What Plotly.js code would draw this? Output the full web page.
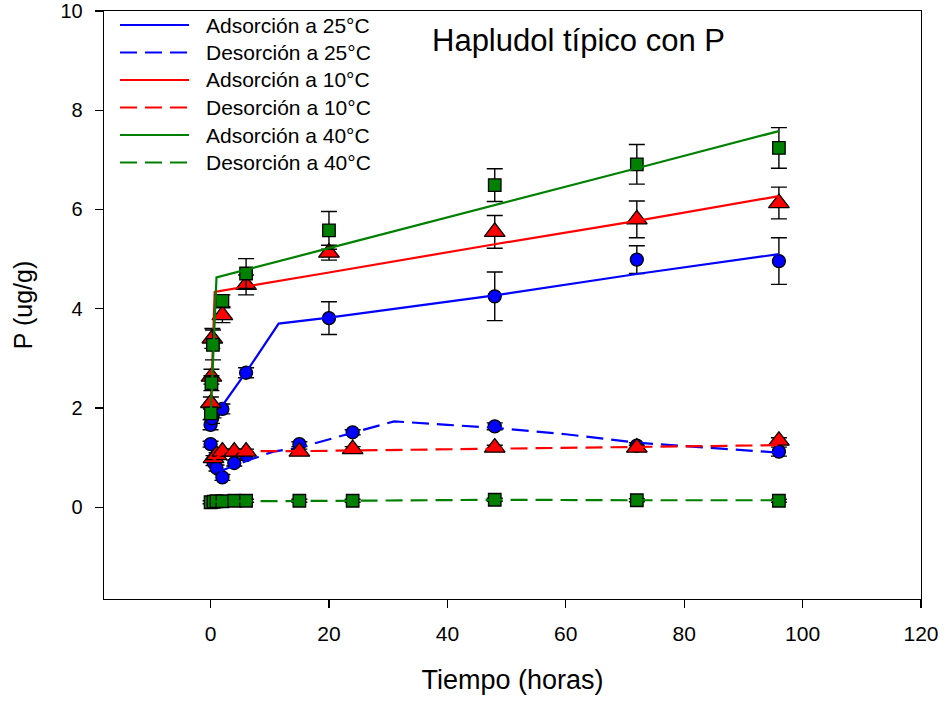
<!DOCTYPE html>
<html>
<head>
<meta charset="utf-8">
<script src="https://cdn.plot.ly/plotly-3.0.1.min.js"></script>
<style>html,body{margin:0;padding:0;background:#fff;}#chart{width:946px;height:702px;}</style>
</head>
<body>
<div id="chart"></div>
<script>
// ---------- DATA ----------
const seriesNames = ["Adsorción a 25°C","Desorción a 25°C","Adsorción a 10°C","Desorción a 10°C","Adsorción a 40°C","Desorción a 40°C"];

// Adsorción 25°C (blue circles)
const adsB_t   = [0, 0.25, 0.5, 2, 6, 20, 48, 72, 96];
const adsB_y   = [1.66, 1.79, 1.9, 1.98, 2.71, 3.81, 4.25, 4.99, 4.96];
const adsB_err = [0.1, 0.1, 0.1, 0.1, 0.1, 0.33, 0.49, 0.28, 0.47];
const adsB_fitT = [0.5, 2, 6, 11.5, 20, 48, 72, 96];
const adsB_fitY = [1.88, 2.05, 2.72, 3.7, 3.82, 4.27, 4.7, 5.1];

// Desorción 25°C
const desB_t   = [0, 0.5, 1, 2, 4, 6, 15, 24, 48, 72, 96];
const desB_y   = [1.27, 0.9, 0.79, 0.6, 0.89, 1.05, 1.27, 1.51, 1.63, 1.24, 1.12];
const desB_err = [0.06, 0.06, 0.06, 0.06, 0.06, 0.06, 0.05, 0.05, 0.07, 0.06, 0.09];
const desB_fitT = [1.5, 6, 10.6, 15, 24, 31, 40, 48, 60, 72, 96];
const desB_fitY = [0.72, 0.93, 1.12, 1.2, 1.5, 1.73, 1.66, 1.6, 1.47, 1.3, 1.1];

// Adsorción 10°C (red triangles)
const adsR_t   = [0.05, 0.15, 0.3, 2, 6, 20, 48, 72, 96];
const adsR_y   = [2.1, 2.63, 3.4, 3.87, 4.48, 5.13, 5.55, 5.8, 6.13];
const adsR_err = [0.12, 0.15, 0.2, 0.15, 0.2, 0.15, 0.33, 0.37, 0.32];
const adsR_fitT = [0.05, 0.7, 20, 48, 72, 96];
const adsR_fitY = [2.05, 4.34, 4.73, 5.3, 5.77, 6.27];

// Desorción 10°C
const desR_t   = [0.5, 1, 2, 4, 6, 15, 24, 48, 72, 96];
const desR_y   = [0.99, 1.05, 1.12, 1.12, 1.12, 1.12, 1.17, 1.2, 1.2, 1.34];
const desR_err = [0.05, 0.05, 0.05, 0.05, 0.05, 0.05, 0.05, 0.05, 0.05, 0.06];
const desR_fitT = [0.5, 2.5, 15, 48, 72, 96];
const desR_fitY = [0.95, 1.13, 1.13, 1.18, 1.22, 1.25];

// Adsorción 40°C (green squares)
const adsG_t   = [0.05, 0.15, 0.4, 2, 6, 20, 48, 72, 96];
const adsG_y   = [1.89, 2.5, 3.27, 4.16, 4.71, 5.58, 6.49, 6.91, 7.24];
const adsG_err = [0.12, 0.15, 0.3, 0.12, 0.3, 0.38, 0.33, 0.4, 0.41];
const adsG_fitT = [0.05, 1.0, 20, 48, 72, 96];
const adsG_fitY = [1.9, 4.63, 5.22, 6.08, 6.83, 7.58];

// Desorción 40°C
const desG_t   = [0, 0.5, 1, 2, 4, 6, 15, 24, 48, 72, 96];
const desG_y   = [0.1, 0.11, 0.12, 0.12, 0.13, 0.13, 0.13, 0.13, 0.15, 0.14, 0.13];
const desG_err = [0.03, 0.03, 0.03, 0.03, 0.03, 0.03, 0.03, 0.03, 0.03, 0.03, 0.03];
const desG_fitT = [0, 6, 24, 48, 72, 96];
const desG_fitY = [0.11, 0.12, 0.13, 0.15, 0.14, 0.14];

const xTicks = [0, 20, 40, 60, 80, 100, 120];
const yTicks = [0, 2, 4, 6, 8, 10];

// ---------- STYLE ----------
const BLUE = '#0000ff', RED = '#ff0000', GREEN = '#008000';
const FONT = 'Liberation Sans, Arial, sans-serif';
const DASH = '17px,8px';

function markers(x, y, err, color, symbol, size) {
  return {
    x: x, y: y, type: 'scatter', mode: 'markers', showlegend: false, hoverinfo: 'skip',
    marker: { color: color, symbol: symbol, size: size, line: { color: '#000', width: 1.3 } },
    error_y: { type: 'data', array: err, visible: true, color: '#000', thickness: 1.4, width: 8 }
  };
}
function fit(x, y, color, dash) {
  return {
    x: x, y: y, type: 'scatter', mode: 'lines', showlegend: false, hoverinfo: 'skip',
    line: { color: color, width: 2.2, dash: dash }
  };
}

const traces = [
  markers(adsB_t, adsB_y, adsB_err, BLUE, 'circle', 13),
  markers(desB_t, desB_y, desB_err, BLUE, 'circle', 13),
  fit(adsB_fitT, adsB_fitY, BLUE, 'solid'),
  fit(desB_fitT, desB_fitY, BLUE, DASH),
  markers(adsR_t, adsR_y, adsR_err, RED, 'triangle-up', 18),
  markers(desR_t, desR_y, desR_err, RED, 'triangle-up', 18),
  fit(adsR_fitT, adsR_fitY, RED, 'solid'),
  fit(desR_fitT, desR_fitY, RED, DASH),
  markers(adsG_t, adsG_y, adsG_err, GREEN, 'square', 12.5),
  markers(desG_t, desG_y, desG_err, GREEN, 'square', 12.5),
  fit(adsG_fitT, adsG_fitY, GREEN, 'solid'),
  fit(desG_fitT, desG_fitY, GREEN, DASH)
];

// ---------- MANUAL LEGEND ----------
const L = 104, R = 921, T = 11, B = 599;
const px = v => (v - L) / (R - L);
const py = v => (B - v) / (B - T);
const legColors = [BLUE, BLUE, RED, RED, GREEN, GREEN];
const legDash = ['solid', DASH, 'solid', DASH, 'solid', DASH];
const shapes = [];
const annotations = [];
for (let i = 0; i < seriesNames.length; i++) {
  const yy = 25 + 27.5 * i;
  shapes.push({ type: 'line', xref: 'paper', yref: 'paper', x0: px(120), x1: px(189), y0: py(yy), y1: py(yy),
    line: { color: legColors[i], width: 2.2, dash: legDash[i] } });
  annotations.push({ xref: 'paper', yref: 'paper', x: px(204), y: py(yy), xanchor: 'left', yanchor: 'middle',
    text: seriesNames[i], showarrow: false, font: { family: FONT, size: 21, color: '#000' } });
}
annotations.push({ xref: 'paper', yref: 'paper', x: px(578), y: py(41), xanchor: 'center', yanchor: 'middle',
  text: 'Hapludol típico con P', showarrow: false, font: { family: FONT, size: 31, color: '#000' } });

const layout = {
  width: 946, height: 702,
  margin: { l: L, r: 946 - R, t: T, b: 702 - B, pad: 0 },
  paper_bgcolor: '#fff', plot_bgcolor: '#fff',
  showlegend: false,
  font: { family: FONT, color: '#000' },
  xaxis: {
    range: [-18, 120], tickvals: xTicks, ticktext: xTicks.map(String),
    showgrid: false, zeroline: false, showline: true, mirror: true, linecolor: '#000', linewidth: 1.3,
    ticks: 'outside', ticklen: 8, tickwidth: 1.3, tickcolor: '#000',
    tickfont: { family: FONT, size: 21 }, ticklabelstandoff: 7, ticklabeloverflow: 'allow',
    title: { text: 'Tiempo (horas)', font: { family: FONT, size: 27 }, standoff: 26 }
  },
  yaxis: {
    range: [-1.85, 10], tickvals: yTicks, ticktext: yTicks.map(String),
    showgrid: false, zeroline: false, showline: true, mirror: true, linecolor: '#000', linewidth: 1.3,
    ticks: 'outside', ticklen: 8, tickwidth: 1.3, tickcolor: '#000',
    tickfont: { family: FONT, size: 20 }, ticklabelstandoff: 8, ticklabeloverflow: 'allow',
    title: { text: 'P (ug/g)', font: { family: FONT, size: 25 }, standoff: 20 }
  },
  shapes: shapes,
  annotations: annotations
};

Plotly.newPlot('chart', traces, layout, { displayModeBar: false, staticPlot: true });
</script>
</body>
</html>
